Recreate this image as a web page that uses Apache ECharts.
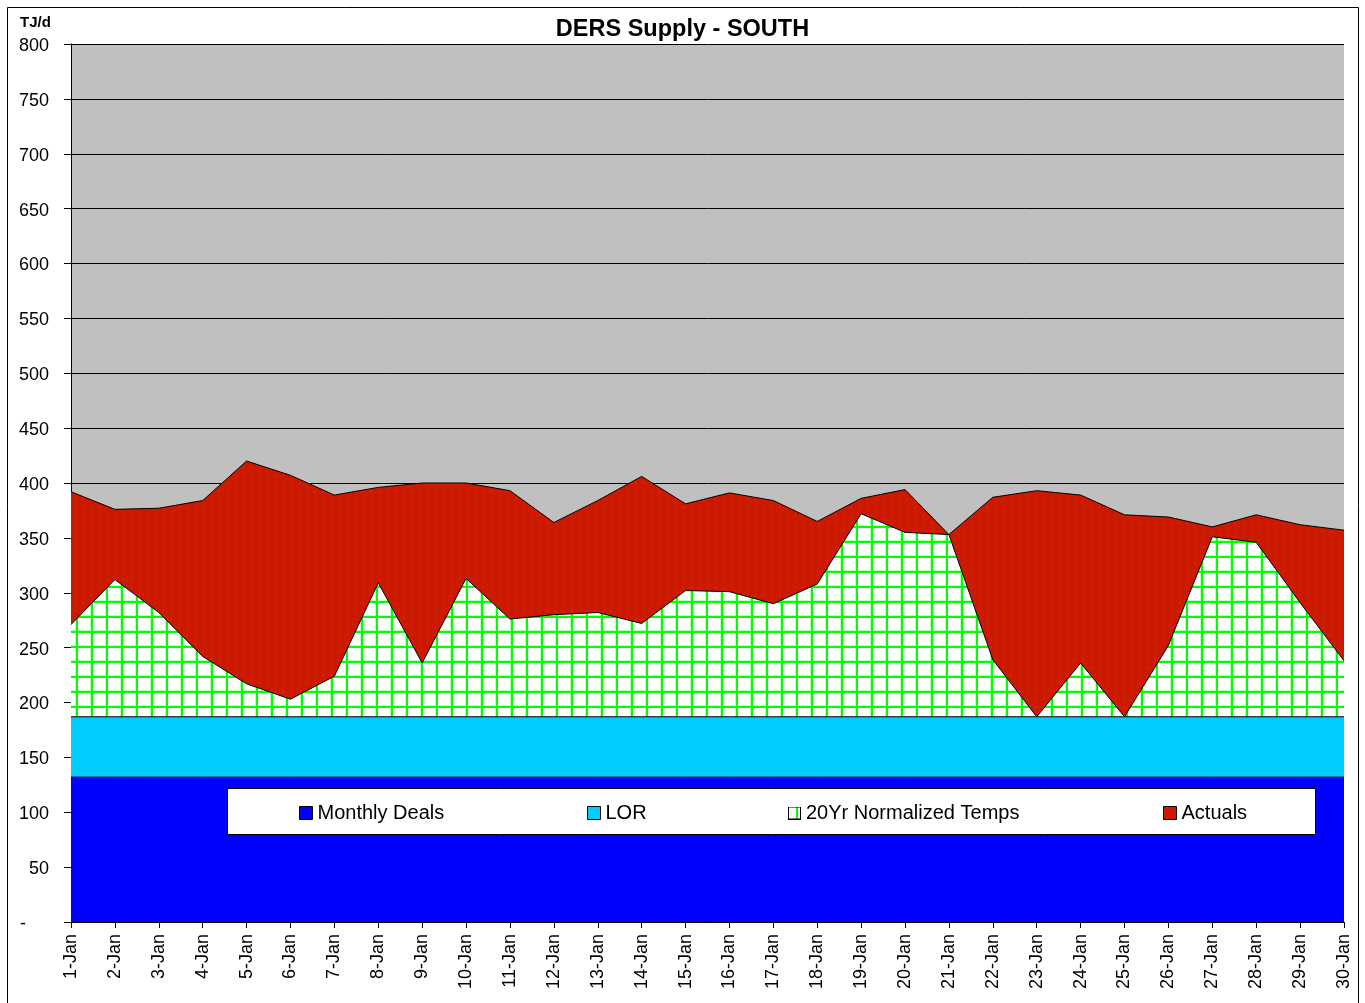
<!DOCTYPE html>
<html>
<head>
<meta charset="utf-8">
<script src="https://cdn.jsdelivr.net/npm/echarts@6/dist/echarts.min.js"></script>
<style>html,body{margin:0;padding:0;background:#fff;}#c{width:1365px;height:1003px;}</style>
</head>
<body>
<div id="c"></div>
<script>
const categories = ['1-Jan','2-Jan','3-Jan','4-Jan','5-Jan','6-Jan','7-Jan','8-Jan','9-Jan','10-Jan','11-Jan','12-Jan','13-Jan','14-Jan','15-Jan','16-Jan','17-Jan','18-Jan','19-Jan','20-Jan','21-Jan','22-Jan','23-Jan','24-Jan','25-Jan','26-Jan','27-Jan','28-Jan','29-Jan','30-Jan'];
const monthlyDeals = [132,132,132,132,132,132,132,132,132,132,132,132,132,132,132,132,132,132,132,132,132,132,132,132,132,132,132,132,132,132];
const lor = [55,55,55,55,55,55,55,55,55,55,55,55,55,55,55,55,55,55,55,55,55,55,55,55,55,55,55,55,55,55];
const normalized = [271,312,282,242,217,203,224,309,236,313,276,280,282,272,302,301,290,308,372,355,353,239,187,236,187,252,351,346,291,238];
const actuals = [392,376,377,384,420,407,389,396,400,400,393,364,384,406,381,391,384,365,386,394,353,387,393,389,371,369,360,371,362,357];
const yTicks = {min:0, max:800, interval:50};

const FONT = 'Liberation Sans, Arial, sans-serif';

function gridPattern(){
  const c = document.createElement('canvas'); c.width = 15; c.height = 15;
  const g = c.getContext('2d');
  g.fillStyle = '#ffffff'; g.fillRect(0,0,15,15);
  g.fillStyle = '#b8ffb8'; g.fillRect(0,0,1,15); g.fillRect(0,0,15,1);
  g.fillStyle = '#00ff00'; g.fillRect(1,0,2,15); g.fillRect(0,1,15,2);
  return c;
}
function dotPattern(){
  const c = document.createElement('canvas'); c.width = 8; c.height = 8;
  const g = c.getContext('2d');
  g.fillStyle = '#cc1a00'; g.fillRect(0,0,8,8);
  g.fillStyle = '#8a4a00'; g.fillRect(3,2,1,3); g.fillRect(2,3,3,1);
  return c;
}
function normIcon(){
  const c = document.createElement('canvas'); c.width = 13; c.height = 13;
  const g = c.getContext('2d');
  g.fillStyle = '#000'; g.fillRect(0,0,13,13);
  g.fillStyle = '#fff'; g.fillRect(1,1,11,11);
  g.fillStyle = '#00ff00'; g.fillRect(8,1,2,11);
  return c.toDataURL();
}

const chart = echarts.init(document.getElementById('c'), null, {renderer:'canvas'});
const legendBase = {top:803, itemWidth:13, itemHeight:13, itemGap:0, itemTextGap:6, padding:0, selectedMode:false, z:20,
  textStyle:{fontSize:20, color:'#000', fontFamily:FONT}};

chart.setOption({
  animation:false,
  backgroundColor:'#ffffff',
  title:[
    {text:'DERS Supply - SOUTH', left:'center', top:18, padding:0, textStyle:{fontSize:23.5, fontWeight:'bold', color:'#000', fontFamily:FONT}},
    {text:'TJ/d', left:20, top:15, padding:0, textStyle:{fontSize:15, fontWeight:'bold', color:'#000', fontFamily:FONT}}
  ],
  grid:{left:71, top:44, right:21, bottom:81, show:true, backgroundColor:'#c0c0c0', borderWidth:0, containLabel:false},
  xAxis:{type:'category', data:categories, boundaryGap:false,
    axisLine:{lineStyle:{color:'#000', width:1}},
    axisTick:{show:true, length:6, interval:0, lineStyle:{color:'#000'}},
    axisLabel:{rotate:90, interval:0, margin:12, fontSize:18, color:'#000', fontFamily:FONT},
    splitLine:{show:false}},
  yAxis:{type:'value', min:yTicks.min, max:yTicks.max, interval:yTicks.interval,
    axisLine:{show:true, lineStyle:{color:'#000', width:1}},
    axisTick:{show:true, length:7, lineStyle:{color:'#000'}},
    axisLabel:{margin:22, fontSize:18, color:'#000', fontFamily:FONT, padding:[4,0,0,0],
      formatter:function(v){ return v === 0 ? '{d|-}' : String(v); },
      rich:{d:{fontSize:18, fontFamily:FONT, color:'#000', padding:[0,23,0,0]}}},
    splitLine:{show:true, lineStyle:{color:'#000', width:1}}},
  legend:[
    Object.assign({}, legendBase, {left:299, data:[{name:'Monthly Deals', icon:'rect', itemStyle:{color:'#0000ff', borderColor:'#000', borderWidth:1}}]}),
    Object.assign({}, legendBase, {left:587, data:[{name:'LOR', icon:'rect', itemStyle:{color:'#00ccff', borderColor:'#000', borderWidth:1}}]}),
    Object.assign({}, legendBase, {left:788, data:[{name:'20Yr Normalized Temps', icon:'image://' + normIcon()}]}),
    Object.assign({}, legendBase, {left:1163, data:[{name:'Actuals', icon:'rect', itemStyle:{color:'#cc1a00', borderColor:'#000', borderWidth:1}}]})
  ],
  graphic:[
    {type:'rect', z:10, shape:{x:7.5, y:7.5, width:1351, height:1010}, style:{fill:null, stroke:'#000', lineWidth:1}},
    {type:'rect', z:10, shape:{x:227.5, y:788.5, width:1088, height:46}, style:{fill:'#ffffff', stroke:'#000', lineWidth:1}}
  ],
  series:[
    {name:'Monthly Deals', type:'line', stack:'base', data:monthlyDeals, z:5, symbol:'none',
      lineStyle:{color:'#000', width:1}, itemStyle:{color:'#0000ff'}, areaStyle:{color:'#0000ff', opacity:1}},
    {name:'LOR', type:'line', stack:'base', data:lor, z:4, symbol:'none',
      lineStyle:{color:'#000', width:1}, itemStyle:{color:'#00ccff'}, areaStyle:{color:'#00ccff', opacity:1}},
    {name:'20Yr Normalized Temps', type:'line', data:normalized, z:3, symbol:'none',
      lineStyle:{color:'#000', width:1}, itemStyle:{color:'#00ff00'}, areaStyle:{color:{image:gridPattern(), repeat:'repeat'}, opacity:1}},
    {name:'Actuals', type:'line', data:actuals, z:2, symbol:'none',
      lineStyle:{color:'#000', width:1}, itemStyle:{color:'#cc1a00'}, areaStyle:{color:{image:dotPattern(), repeat:'repeat'}, opacity:1}}
  ]
});
</script>
</body>
</html>
